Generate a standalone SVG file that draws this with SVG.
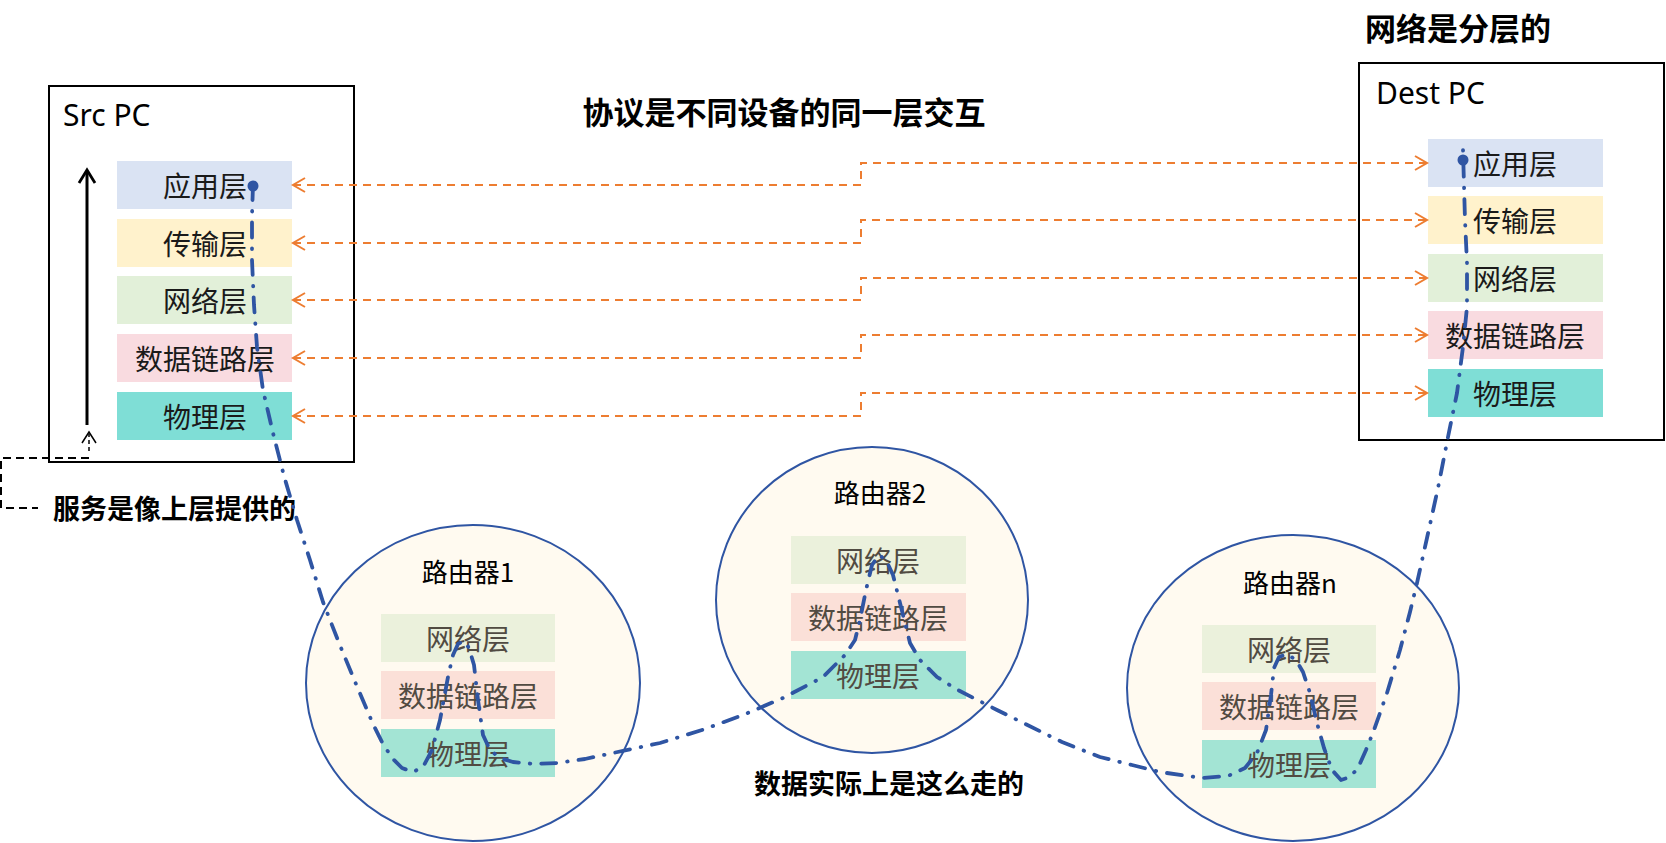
<svg xmlns="http://www.w3.org/2000/svg" width="1666" height="843" viewBox="0 0 1666 843">
<defs>
<style>
.t{font-family:"Noto Sans","Noto Sans CJK SC",sans-serif;}
.lay{font-family:"Noto Sans CJK SC","Noto Sans",sans-serif;font-size:28px;text-anchor:middle;dominant-baseline:central;fill:#1a1a1a;}
.rl{fill:#514b42;}
.rn{font-size:26px;fill:#000;}
.bold{font-family:"Noto Sans CJK SC",sans-serif;font-weight:bold;fill:#000;}
.pc{fill:#fff;stroke:#000;stroke-width:2;}
.rt{fill:#FFFAF0;stroke:#2F55A3;stroke-width:2;}
.orange{fill:none;stroke:#ED7D31;stroke-width:2;stroke-dasharray:8 6;}
.blue{fill:none;stroke:#2F55A3;stroke-width:3.8;stroke-dasharray:15 11 0.5 11;stroke-linecap:round;stroke-linejoin:round;}
</style>
<marker id="oa" viewBox="0 0 16 16" refX="14" refY="8" markerWidth="16" markerHeight="16" markerUnits="userSpaceOnUse" orient="auto-start-reverse">
<path d="M2,1 L14,8 L2,15" fill="none" stroke="#ED7D31" stroke-width="2"/>
</marker>
</defs>
<rect width="1666" height="843" fill="#fff"/>

<g id="title-protocol"><text class="bold" x="784" y="124" font-size="31" text-anchor="middle">协议是不同设备的同一层交互</text></g>
<g id="title-layered"><text class="bold" x="1458" y="40" font-size="31" text-anchor="middle">网络是分层的</text></g>

<g id="src-pc">
<rect class="pc" x="49" y="86" width="305" height="376"/>
<text class="t" x="63" y="126" font-size="30">Src PC</text>
<rect x="117" y="161" width="175" height="48" fill="#DAE3F3"/>
<rect x="117" y="219" width="175" height="48" fill="#FFF2CC"/>
<rect x="117" y="276" width="175" height="48" fill="#E2F0D9"/>
<rect x="117" y="334" width="175" height="48" fill="#F9DBE0"/>
<rect x="117" y="392" width="175" height="48" fill="#7FDED6"/>
<text class="lay" x="205" y="185">应用层</text>
<text class="lay" x="205" y="243">传输层</text>
<text class="lay" x="205" y="300">网络层</text>
<text class="lay" x="205" y="358">数据链路层</text>
<text class="lay" x="205" y="416">物理层</text>
<line x1="87" y1="425" x2="87" y2="171" stroke="#000" stroke-width="3"/>
<path d="M79,183 L87,170 L95,183" fill="none" stroke="#000" stroke-width="2.8"/>
<line x1="89" y1="451" x2="89" y2="434" stroke="#000" stroke-width="1.5" stroke-dasharray="4 3"/>
<path d="M82,443 L89,432 L96,443" fill="none" stroke="#000" stroke-width="1.5"/>
</g>

<g id="service-note">
<path d="M89,458 H1 V508 H38" fill="none" stroke="#000" stroke-width="2" stroke-dasharray="8 5"/>
<text class="bold" x="53" y="519" font-size="27">服务是像上层提供的</text>
</g>

<g id="dest-pc">
<rect class="pc" x="1359" y="63" width="305" height="377"/>
<text class="t" x="1376" y="104" font-size="30">Dest PC</text>
<rect x="1428" y="139" width="175" height="48" fill="#DAE3F3"/>
<rect x="1428" y="196" width="175" height="48" fill="#FFF2CC"/>
<rect x="1428" y="254" width="175" height="48" fill="#E2F0D9"/>
<rect x="1428" y="311" width="175" height="48" fill="#F9DBE0"/>
<rect x="1428" y="369" width="175" height="48" fill="#7FDED6"/>
<text class="lay" x="1515" y="163">应用层</text>
<text class="lay" x="1515" y="220">传输层</text>
<text class="lay" x="1515" y="278">网络层</text>
<text class="lay" x="1515" y="335">数据链路层</text>
<text class="lay" x="1515" y="393">物理层</text>
</g>

<g id="router1">
<ellipse class="rt" cx="473" cy="683" rx="167" ry="158"/>
<text class="lay rn" x="468" y="570">路由器1</text>
<rect x="381" y="614" width="174" height="48" fill="#EBF1DC"/>
<rect x="381" y="671" width="174" height="48" fill="#FBE0D8"/>
<rect x="381" y="729" width="174" height="48" fill="#A3E4D4"/>
<text class="lay rl" x="468" y="638">网络层</text>
<text class="lay rl" x="468" y="695">数据链路层</text>
<text class="lay rl" x="468" y="753">物理层</text>
</g>

<g id="router2">
<ellipse class="rt" cx="872" cy="600" rx="156" ry="153"/>
<text class="lay rn" x="880" y="491">路由器2</text>
<rect x="791" y="536" width="175" height="48" fill="#EBF1DC"/>
<rect x="791" y="593" width="175" height="48" fill="#FBE0D8"/>
<rect x="791" y="651" width="175" height="48" fill="#A3E4D4"/>
<text class="lay rl" x="878" y="560">网络层</text>
<text class="lay rl" x="878" y="617">数据链路层</text>
<text class="lay rl" x="878" y="675">物理层</text>
</g>

<g id="routern">
<ellipse class="rt" cx="1293" cy="688" rx="166" ry="153"/>
<text class="lay rn" x="1290" y="581">路由器n</text>
<rect x="1202" y="625" width="174" height="48" fill="#EBF1DC"/>
<rect x="1202" y="682" width="174" height="48" fill="#FBE0D8"/>
<rect x="1202" y="740" width="174" height="48" fill="#A3E4D4"/>
<text class="lay rl" x="1289" y="649">网络层</text>
<text class="lay rl" x="1289" y="706">数据链路层</text>
<text class="lay rl" x="1289" y="764">物理层</text>
</g>

<g id="data-note"><text class="bold" x="889" y="794" font-size="27" text-anchor="middle">数据实际上是这么走的</text></g>

<g id="connectors">
<path class="orange" d="M293,185 H861 V163 H1427" marker-start="url(#oa)" marker-end="url(#oa)"/>
<path class="orange" d="M293,243 H861 V220 H1427" marker-start="url(#oa)" marker-end="url(#oa)"/>
<path class="orange" d="M293,300 H861 V278 H1427" marker-start="url(#oa)" marker-end="url(#oa)"/>
<path class="orange" d="M293,358 H861 V335 H1427" marker-start="url(#oa)" marker-end="url(#oa)"/>
<path class="orange" d="M293,416 H861 V393 H1427" marker-start="url(#oa)" marker-end="url(#oa)"/>
<path class="blue" d="M253,185 L252,215 L252,260 L254,305 L257,347 L263,390 L273,433 L284,476 L297,520 L310,560 L323,602 L339,643 L356,684 L373,724 L382,742 L392,758 L402,768 L413,772 L423,767 L432,750 L440,720 L448,677 L453,655 L458,644 L464,641 L469,648 L474,665 L478,700 L483,735 L490,750 L500,758 L513,762 L535,764 L557,763 L585,759 L613,753 L660,743 L702,730 L743,715 L783,698 L823,677 L845,655 L855,640 L860,620 L866,590 L872,565 L879,555 L886,560 L893,575 L900,603 L910,643 L920,660 L937,677 L956,689 L997,710 L1062,742 L1100,757 L1132,765 L1160,772 L1202,778 L1228,776 L1245,768 L1257,753 L1266,730 L1271,695 L1274,668 L1279,657 L1287,654 L1296,660 L1303,672 L1310,693 L1317,723 L1324,748 L1332,770 L1341,780 L1350,777 L1358,768 L1366,750 L1374,730 L1387,693 L1400,650 L1410,612 L1417,583 L1427,538 L1438,488 L1448,437 L1457,393 L1463,347 L1467,307 L1467,263 L1465,220 L1464,185 L1463,150"/>
<circle cx="253" cy="186" r="5.5" fill="#2F55A3"/>
<circle cx="1463" cy="160" r="5.5" fill="#2F55A3"/>
</g>
</svg>
